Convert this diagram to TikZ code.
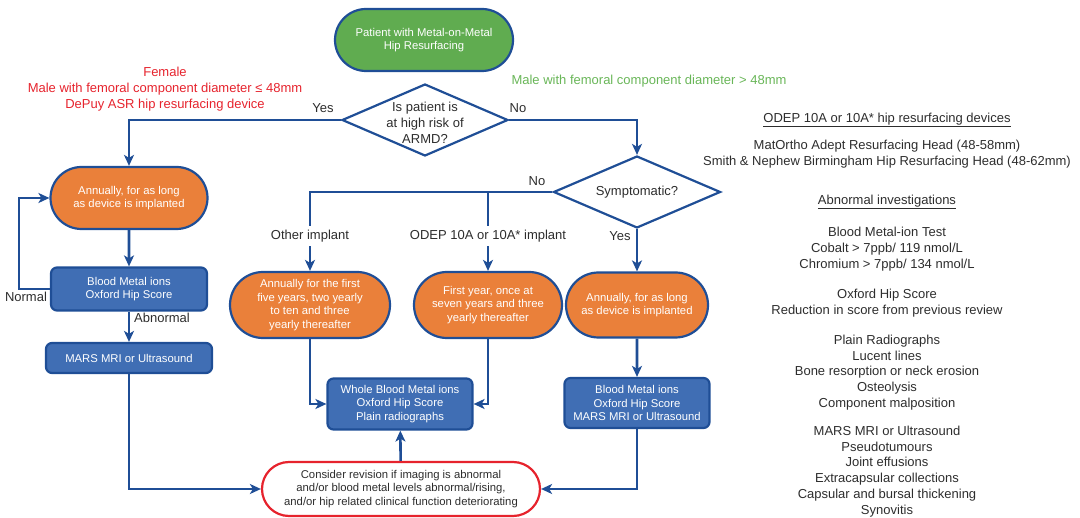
\documentclass[tikz,border=0pt]{standalone}
\usepackage{fontspec}
\setmainfont{Liberation Sans}
\usetikzlibrary{arrows.meta,shapes.geometric,shapes.misc}

\definecolor{lineblue}{RGB}{31,78,150}
\definecolor{boxblue}{RGB}{64,110,180}
\definecolor{orangefill}{RGB}{234,128,58}
\definecolor{greenfill}{RGB}{96,172,80}
\definecolor{redline}{RGB}{230,35,45}
\definecolor{greentext}{RGB}{105,182,88}
\definecolor{darktext}{RGB}{45,45,45}

\newcommand\boxfont{\fontsize{11.3}{13.8}\selectfont}
\newcommand\labfont{\fontsize{13}{15.8}\selectfont}

\tikzset{
  pill/.style={rounded rectangle, draw=lineblue, line width=2.2pt, text=white,
    font=\boxfont, align=center, inner sep=0pt},
  orangepill/.style={pill, fill=orangefill},
  bluebox/.style={rectangle, rounded corners=6pt, draw=lineblue, line width=2.2pt,
    fill=boxblue, text=white, font=\boxfont, align=center, inner sep=0pt},
  decision/.style={diamond, aspect=2.3, draw=lineblue, line width=2.2pt, fill=white,
    text=darktext, font=\labfont, align=center, inner sep=0pt},
  lbl/.style={text=darktext, font=\labfont, align=center, inner sep=1pt},
  flow/.style={draw=lineblue, line width=2.6pt,
    -{Stealth[length=11pt,width=10pt,inset=3pt]}},
}

\begin{document}
\begin{tikzpicture}[x=1pt, y=-1pt]
\useasboundingbox (0,0) rectangle (1080,518);

% boxes
\node[pill, fill=greenfill, minimum width=178, minimum height=62] (start) at (424,40)
  {Patient with Metal-on-Metal\\Hip Resurfacing};
\node[decision, minimum width=166, minimum height=72,
  label={[lbl, yshift=-3pt]center:Is patient is\\at high risk of\\ARMD?}] (risk) at (425,120) {};
\node[decision, minimum width=167, minimum height=72] (symp) at (637,192) {Symptomatic?};

\node[orangepill, minimum width=157, minimum height=62] (lorg) at (129,198)
  {Annually, for as long\\as device is implanted};
\node[bluebox, minimum width=156, minimum height=43] (lblue) at (129,289)
  {Blood Metal ions\\Oxford Hip Score};
\node[bluebox, minimum width=166, minimum height=30] (lmars) at (129,358)
  {MARS MRI or Ultrasound};

\node[orangepill, minimum width=160, minimum height=66] (morgA) at (310,305)
  {Annually for the first\\five years, two yearly\\to ten and three\\yearly thereafter};
\node[orangepill, minimum width=148, minimum height=66] (morgB) at (488,305)
  {First year, once at\\seven years and three\\yearly thereafter};
\node[orangepill, minimum width=142, minimum height=65] (rorg) at (637,305)
  {Annually, for as long\\as device is implanted};

\node[bluebox, minimum width=145, minimum height=51] (mblue) at (400,404)
  {Whole Blood Metal ions\\Oxford Hip Score\\Plain radiographs};
\node[bluebox, minimum width=145, minimum height=50] (rblue) at (637,403)
  {Blood Metal ions\\Oxford Hip Score\\MARS MRI or Ultrasound};

\node[pill, draw=redline, fill=white, text=darktext, minimum width=278, minimum height=54]
  (revise) at (401,489)
  {Consider revision if imaging is abnormal\\and/or blood metal levels abnormal/rising,\\and/or hip related clinical function deteriorating};

% connectors
\draw [flow] (risk) -| (lorg);
\draw [flow] (risk) -| (symp);
\draw [flow] (lorg) -- (lblue);
\draw [flow] (lblue) -- (lmars);
\draw [flow] (lblue.west) -- ++(-31,0) |- (lorg);
\draw [flow] (lmars) |- (revise);
\draw [flow] (symp) -| (morgA);
\coordinate (split) at (morgB |- symp);
\draw [flow] (split) -- (morgB);
\draw [flow] (symp) -- (rorg);
\draw [flow] (rorg) -- (rblue);
\draw [flow] (morgA) |- (mblue);
\draw [flow] (morgB) |- (mblue);
\draw [flow] (rblue) |- (revise);
\draw [flow] (revise) -- (mblue);

% labels
\node[lbl] (yesA) at (323,108) {Yes};
\node[lbl] (noA) at (518,108) {No};
\node[lbl] (noB) at (537,181) {No};
\node[lbl] (yesB) at (620,236) {Yes};
\node[lbl, fill=white, inner sep=4pt] (other) at (310,236) {Other implant};
\node[lbl, fill=white, inner sep=4pt] (odep) at (488,236) {ODEP 10A or 10A* implant};
\node[lbl] (normal) at (26,297) {Normal};
\node[lbl, anchor=west] (abnormal) at (133,318) {Abnormal};

\node[lbl, text=redline] (highrisk) at (165,89)
  {Female\\Male with femoral component diameter ≤ 48mm\\DePuy ASR hip resurfacing device};
\node[lbl, text=greentext] (lowrisk) at (649,81) {Male with femoral component diameter > 48mm};

% right column
\node[lbl] (devhead) at (887,120) {\underline{ODEP 10A or 10A* hip resurfacing devices}};
\node[lbl] (devices) at (887,154)
  {MatOrtho Adept Resurfacing Head (48-58mm)\\Smith \& Nephew Birmingham Hip Resurfacing Head (48-62mm)};
\node[lbl] (invhead) at (887,202) {\underline{Abnormal investigations}};
\node[lbl] (ions) at (887,249)
  {Blood Metal-ion Test\\Cobalt > 7ppb/ 119 nmol/L\\Chromium > 7ppb/ 134 nmol/L};
\node[lbl] (ohs) at (887,303) {Oxford Hip Score\\Reduction in score from previous review};
\node[lbl] (xray) at (887,372.5)
  {Plain Radiographs\\Lucent lines\\Bone resorption or neck erosion\\Osteolysis\\Component malposition};
\node[lbl] (mri) at (887,471.5)
  {MARS MRI or Ultrasound\\Pseudotumours\\Joint effusions\\Extracapsular collections\\Capsular and bursal thickening\\Synovitis};
\end{tikzpicture}
\end{document}
